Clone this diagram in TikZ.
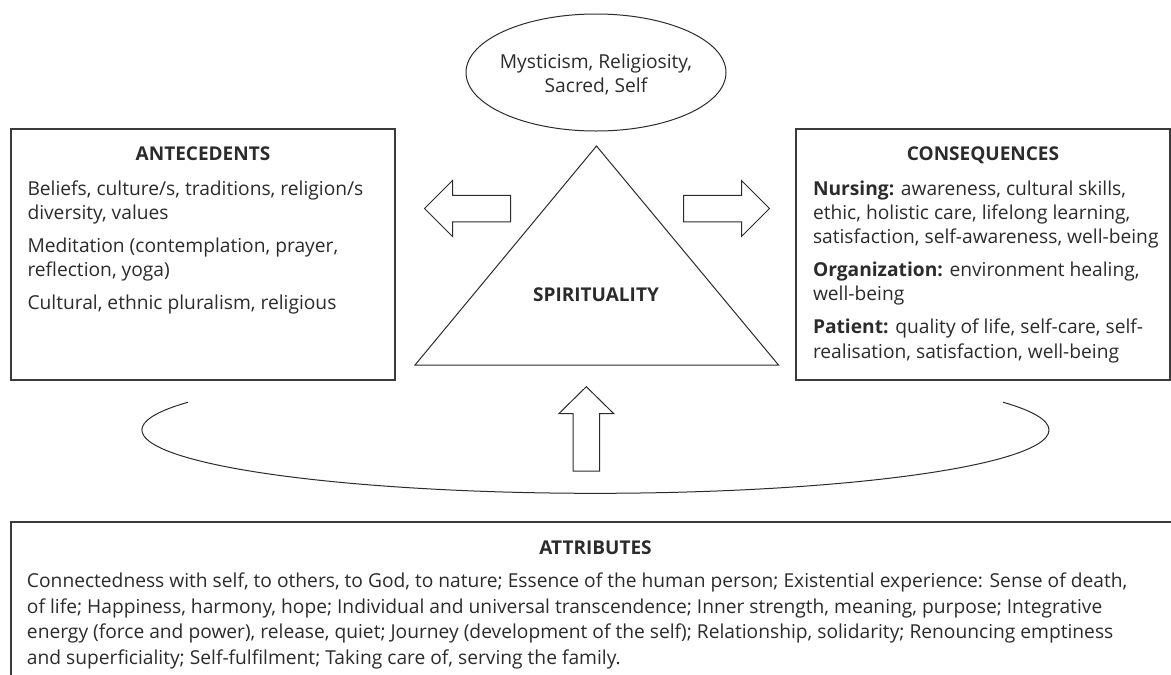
\documentclass[tikz,border=0pt]{standalone}
\usepackage{fontspec}
\setmainfont{Open Sans}
\usetikzlibrary{calc,shapes.geometric}
\definecolor{ink}{HTML}{2B2B2B}
\definecolor{edge}{HTML}{3A3A3A}

\begin{document}
\begin{tikzpicture}[x=1pt,y=-1pt,
  every node/.style={inner sep=0pt, outer sep=0pt, text=ink},
  frame/.style={draw=edge, line width=1.4pt, rectangle, anchor=north west},
  outline/.style={draw=ink, line width=1pt, line join=miter},
  bodyline/.style={font=\fontsize{19.2}{24}\selectfont, anchor=base west},
  midline/.style={font=\fontsize{19.2}{24}\selectfont, anchor=base},
  headline/.style={font=\fontsize{19}{24}\selectfont\bfseries, anchor=base},
]
\useasboundingbox (0,0) rectangle (1171,675);
\clip (0,0) rectangle (1171,675);

% ---- frames ----
\node[frame, minimum width=384pt, minimum height=251pt] (ante) at (11,129) {};
\node[frame, minimum width=374pt, minimum height=251pt] (cons) at (796,129) {};
\node[frame, minimum width=1300pt, minimum height=300pt] (attr) at (11,522) {};

% ---- ellipse on top ----
\node[outline, ellipse, minimum width=260pt, minimum height=117pt] (myst) at (596,72.5) {};
\node[midline] (mystA) at (596,68) {Mysticism, Religiosity,};
\node[midline] (mystB) at (596,92) {Sacred, Self};

% ---- central triangle ----
\coordinate (apex) at (596.5,146);
\coordinate (baseR) at (778.5,365);
\coordinate (baseL) at (415,365);
\draw[outline] (apex) -- (baseR) -- (baseL) -- cycle;
\node[headline] (spirit) at (596,301.3) {SPIRITUALITY};

% ---- block arrows ----
\coordinate (leftTip) at (424.5,208.5);
\draw[outline] (leftTip) -- ++(28,-28) -- ++(0,14.75) -- ++(58,0) -- ++(0,26.5)
  -- ++(-58,0) -- ++(0,14.75) -- cycle;
\coordinate (rightTip) at (769.5,208.5);
\draw[outline] (rightTip) -- ++(-28,-28) -- ++(0,14.75) -- ++(-58,0) -- ++(0,26.5)
  -- ++(58,0) -- ++(0,14.75) -- cycle;
\coordinate (upTip) at (586.3,386.7);
\draw[outline] (upTip) -- ++(27.5,27) -- ++(-14.3,0) -- ++(0,57.3) -- ++(-26.4,0)
  -- ++(0,-57.3) -- ++(-14.3,0) -- cycle;

% ---- open ring under the triangle ----
\coordinate (ring) at (595.5,430);
\draw[outline] ($(ring)+(154:453.5pt and 63.3pt)$)
  arc[start angle=154, end angle=386, x radius=453.5pt, y radius=63.3pt];

% ---- antecedents ----
\node[headline] (anteT) at (203,160) {ANTECEDENTS};
\node[bodyline] (ante1) at (27.5,195) {Beliefs, culture/s, traditions, religion/s};
\node[bodyline] (ante2) at (27.5,219.3) {diversity, values};
\node[bodyline] (ante3) at (27.5,252.3) {Meditation (contemplation, prayer,};
\node[bodyline] (ante4) at (27.5,276.6) {reflection, yoga)};
\node[bodyline] (ante5) at (27.5,309.6) {Cultural, ethnic pluralism, religious};

% ---- consequences ----
\node[headline] (consT) at (983,160) {CONSEQUENCES};
\node[bodyline] (cons1) at (813,195) {\textbf{Nursing:} awareness, cultural skills,};
\node[bodyline] (cons2) at (813,219.3) {ethic, holistic care, lifelong learning,};
\node[bodyline] (cons3) at (813,243.6) {satisfaction, self-awareness, well-being};
\node[bodyline] (cons4) at (813,276.6) {\textbf{Organization:} environment healing,};
\node[bodyline] (cons5) at (813,300.9) {well-being};
\node[bodyline] (cons6) at (813,333.9) {\textbf{Patient:} quality of life, self-care, self-};
\node[bodyline] (cons7) at (813,358.2) {realisation, satisfaction, well-being};

% ---- attributes ----
\node[headline] (attrT) at (595.5,554.6) {ATTRIBUTES};
\node[bodyline] (attr1) at (27,587.3) {Connectedness with self, to others, to God, to nature; Essence of the human person; Existential experience: Sense of death,};
\node[bodyline] (attr2) at (27,613) {of life; Happiness, harmony, hope; Individual and universal transcendence; Inner strength, meaning, purpose; Integrative};
\node[bodyline] (attr3) at (27,638.6) {energy (force and power), release, quiet; Journey (development of the self); Relationship, solidarity; Renouncing emptiness};
\node[bodyline] (attr4) at (27,664.2) {and superficiality; Self-fulfilment; Taking care of, serving the family.};
\end{tikzpicture}
\end{document}
